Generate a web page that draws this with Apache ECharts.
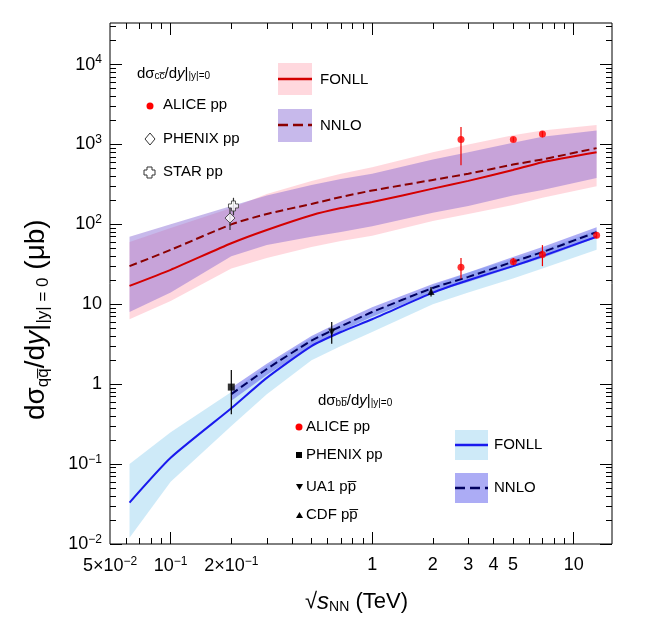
<!DOCTYPE html>
<html>
<head>
<meta charset="utf-8">
<script src="https://cdn.jsdelivr.net/npm/echarts@6/dist/echarts.min.js"></script>
<style>
html,body{margin:0;height:100%;background:#fff;}
#main{width:650px;height:631px;}
</style>
</head>
<body>
<div id="main"></div>
<script>
// energies (TeV) for theory curves
var energies = [0.0625, 0.1, 0.2, 0.3, 0.5, 0.7, 1, 2, 3, 5, 7, 13];
var fonllCC    = [17, 27, 58, 85, 130, 160, 190, 280, 350, 480, 600, 800];
var fonllCCLo  = [6.5, 11, 28, 38, 52, 62, 72, 110, 135, 175, 215, 300];
var fonllCCHi  = [60, 90, 160, 240, 350, 430, 520, 800, 1000, 1300, 1500, 1750];
var nnloCC     = [30, 48, 100, 135, 180, 220, 265, 360, 430, 560, 650, 900];
var nnloCCLo   = [8, 14, 40, 55, 70, 80, 95, 140, 170, 230, 270, 380];
var nnloCCHi   = [70, 100, 170, 230, 310, 370, 430, 650, 800, 1050, 1250, 1500];

var fonllBB    = [0.033, 0.12, 0.5, 1.2, 3.0, 4.5, 6.5, 14, 20, 30, 40, 70];
var fonllBBLo  = [0.012, 0.06, 0.3, 0.75, 2.0, 3.0, 4.5, 10, 14, 21, 28, 48];
var fonllBBHi  = [0.1, 0.25, 0.8, 1.7, 3.8, 5.6, 8.0, 17, 25, 37, 48, 85];
var bbE        = [0.2, 0.3, 0.5, 0.7, 1, 2, 3, 5, 7, 13];
var nnloBB     = [0.75, 1.55, 3.5, 5.3, 8, 16, 22, 34, 45, 80];
var nnloBBLo   = [0.62, 1.3, 3.0, 4.6, 7, 14, 19, 29, 38, 68];
var nnloBBHi   = [0.9, 1.8, 4.0, 6.1, 9.2, 18, 25, 39, 52, 92];

// measurements [x, y, errLo, errHi]
var aliceCC  = [[2.76, 1150, 550, 1650], [5.02, 1150, 1080, 1230], [7, 1350, 1230, 1460]];
var phenixCC = [[0.197, 120, 85, 160]];
var starCC   = [[0.205, 170, 130, 215]];
var aliceBB  = [[2.76, 29, 21, 38], [5.02, 34, 31, 38], [7, 42, 30, 55], [13, 73, 67, 80]];
var phenixBB = [[0.2, 0.92, 0.42, 1.5]];
var ua1BB    = [[0.63, 4.5, 3.2, 6.0]];
var cdfBB    = [[1.96, 14.5, 12.5, 16.5]];

var xLabelVals = [0.05, 0.1, 0.2, 1, 2, 3, 4, 5, 10];
var yLabelExps = [-2, -1, 0, 1, 2, 3, 4];

var L = Math.log10;
function pts(xs, ys) { return xs.map(function (x, i) { return [L(x), L(ys[i])]; }); }

function band(xs, lo, hi, color) {
  return { type: 'custom', silent: true, z: 1,
    data: xs.map(function (x, i) { return [L(x), L(lo[i]), L(hi[i])]; }),
    renderItem: function (params, api) {
      if (params.dataIndex !== 0) return null;
      var top = xs.map(function (x, i) { return api.coord([L(x), L(hi[i])]); });
      var bot = xs.map(function (x, i) { return api.coord([L(x), L(lo[i])]); }).reverse();
      return { type: 'polygon', shape: { points: top.concat(bot) }, style: { fill: color } };
    } };
}
function curve(xs, ys, color, dash) {
  return { type: 'line', data: pts(xs, ys), symbol: 'none', smooth: 0.2, z: 3,
    lineStyle: { color: color, width: 2, type: dash ? [8, 4] : 'solid' } };
}
function errs(d, color) {
  return { type: 'custom', z: 5, data: d.map(function (p) { return [L(p[0]), L(p[2]), L(p[3])]; }),
    renderItem: function (params, api) {
      var a = api.coord([api.value(0), api.value(1)]);
      var b = api.coord([api.value(0), api.value(2)]);
      return { type: 'line', shape: { x1: a[0], y1: a[1], x2: b[0], y2: b[1] },
        style: { stroke: color, lineWidth: 1.2 } };
    } };
}
function marks(d, symbol, color, size, hollow, rot) {
  return { type: 'scatter', data: d.map(function (p) { return [L(p[0]), L(p[1])]; }),
    symbol: symbol, symbolSize: size, symbolRotate: rot || 0, z: 6,
    itemStyle: hollow ? { color: '#fff', borderColor: color, borderWidth: 1 } : { color: color } };
}

var sup = { fontSize: 12, padding: [0, 0, 9, 0], color: '#000', fontFamily: 'Liberation Sans' };
var big = { fontSize: 18, color: '#000', fontFamily: 'Liberation Sans' };
function xFmt(v) {
  var best = xLabelVals.reduce(function (a, b) { return Math.abs(L(b) - v) < Math.abs(L(a) - v) ? b : a; });
  if (best === 0.05) return '{b|5\u00d710}{s|\u22122}';
  if (best === 0.1) return '{b|10}{s|\u22121}';
  if (best === 0.2) return '{b|2\u00d710}{s|\u22121}';
  return '{b|' + best + '}';
}
function yFmt(v) {
  var n = Math.round(v);
  if (n === 0) return '{b|1}';
  if (n === 1) return '{b|10}';
  return '{b|10}{s|' + String(n).replace('-', '\u2212') + '}';
}

var xMinor = [], yMinor = [];
[0.01, 0.1, 1, 10].forEach(function (d) {
  for (var k = 2; k <= 9; k++) { var v = k * d; if (v > 0.05 && v < 15) xMinor.push(L(v)); }
});
for (var n = -2; n <= 4; n++) for (var k = 2; k <= 9; k++) { if (L(k) + n < 4.52) yMinor.push(L(k) + n); }
var xMajor = [-1, 0, 1];

var XMIN = L(0.05), XMAX = L(15.5), YMIN = -2, YMAX = 4.52;
function xAx(pos, vals, len, labels) {
  return { type: 'value', min: XMIN, max: XMAX, position: pos,
    axisLine: { show: false, onZero: false },
    axisTick: { inside: true, length: len, customValues: vals, lineStyle: { color: '#000' } },
    axisLabel: labels ? { customValues: xLabelVals.map(L), formatter: xFmt, rich: { b: big, s: sup }, margin: 12 } : { show: false },
    splitLine: { show: false } };
}
function yAx(pos, vals, len, labels) {
  return { type: 'value', min: YMIN, max: YMAX, position: pos,
    axisLine: { show: false, onZero: false },
    axisTick: { inside: true, length: len, customValues: vals, lineStyle: { color: '#000' } },
    axisLabel: labels ? { customValues: yLabelExps, formatter: yFmt, rich: { b: big, s: sup }, margin: 8 } : { show: false },
    splitLine: { show: false } };
}

var series = [].concat(
  [band(energies, fonllCCLo, fonllCCHi, 'rgba(255,190,200,0.6)'),
   band(energies, nnloCCLo, nnloCCHi, 'rgba(130,100,210,0.45)'),
   band(energies, fonllBBLo, fonllBBHi, 'rgba(180,222,245,0.65)'),
   band(bbE, nnloBBLo, nnloBBHi, 'rgba(90,90,235,0.5)'),
   curve(energies, fonllCC, '#d40000', false),
   curve(energies, nnloCC, '#8b0000', true),
   curve(energies, fonllBB, '#1a1aee', false),
   curve(bbE, nnloBB, '#000060', true),
   errs(aliceCC, '#e00'), errs(phenixCC, '#333'), errs(starCC, '#333'),
   errs(aliceBB, '#e00'), errs(phenixBB, '#000'), errs(ua1BB, '#000'), errs(cdfBB, '#000'),
   marks(aliceCC, 'circle', '#f00', 7), marks(phenixCC, 'diamond', '#333', 10, true),
   marks(starCC, 'path://M3,0H7V3H10V7H7V10H3V7H0V3H3Z', '#333', 10, true),
   marks(aliceBB, 'circle', '#f00', 7), marks(phenixBB, 'rect', '#000', 7),
   marks(ua1BB, 'triangle', '#000', 7, false, 180), marks(cdfBB, 'triangle', '#000', 7)]
);
series.forEach(function (s) { s.xAxisIndex = 0; s.yAxisIndex = 0; });

var T = { fontFamily: 'Liberation Sans', fill: '#000' };
function txt(x, y, rich, text, size) {
  return { type: 'text', left: x, top: y, style: Object.assign({ text: text, fontSize: size || 14, rich: rich }, T) };
}
var legRich = {
  s: { fontSize: 10, padding: [0, 0, -6, 0], fontFamily: 'Liberation Sans' },
  i: { fontSize: 15, fontStyle: 'italic', fontFamily: 'Liberation Sans' },
  n: { fontSize: 15, fontFamily: 'Liberation Sans' }
};
function box(x, y, w, h, fill) { return { type: 'rect', shape: { x: x, y: y, width: w, height: h }, style: { fill: fill } }; }
function ln(x1, y, x2, color, dash) {
  return { type: 'line', shape: { x1: x1, y1: y, x2: x2, y2: y }, style: { stroke: color, lineWidth: 2.5, lineDash: dash ? [10, 5] : null } };
}

var chart = echarts.init(document.getElementById('main'));
chart.setOption({
  animation: false,
  grid: { left: 110, right: 38, top: 23, bottom: 87 },
  xAxis: [xAx('bottom', xMajor, 12, true), xAx('bottom', xMinor, 6, false),
          xAx('top', xMajor, 12, false), xAx('top', xMinor, 6, false)],
  yAxis: [yAx('left', yLabelExps, 12, true), yAx('left', yMinor, 6, false),
          yAx('right', yLabelExps, 12, false), yAx('right', yMinor, 6, false)],
  series: series.concat([
    { type: 'line', xAxisIndex: 2, yAxisIndex: 2, data: [] },
    { type: 'line', xAxisIndex: 1, yAxisIndex: 1, data: [] },
    { type: 'line', xAxisIndex: 3, yAxisIndex: 3, data: [] }
  ]),
  graphic: [
    { type: 'rect', shape: { x: 110, y: 23, width: 502, height: 521 }, style: { fill: null, stroke: '#000', lineWidth: 1 }, silent: true },
    // y axis title
    { type: 'text', x: 22, y: 420, rotation: Math.PI / 2,
      style: Object.assign({ text: '{a|d\u03c3}{s|qq\u0305}{a|/d}{i|y}{a||}{s||y| = 0}{a| (\u03bcb)}', rich: {
        a: { fontSize: 28, fontFamily: 'Liberation Sans' },
        i: { fontSize: 28, fontStyle: 'italic', fontFamily: 'Liberation Sans' },
        s: { fontSize: 17, padding: [0, 0, -14, 0], fontFamily: 'Liberation Sans' } } }, T) },
    // x axis title
    txt(305, 590, { a: { fontSize: 22, fontFamily: 'Liberation Sans' }, i: { fontSize: 24, fontStyle: 'italic', fontFamily: 'Liberation Sans' }, s: { fontSize: 14, padding: [0, 0, -10, 0], fontFamily: 'Liberation Sans' } },
        '{a|\u221a}{i|s}{s|NN}{a| (TeV)}'),
    // charm legend
    txt(137, 66, legRich, '{n|d\u03c3}{s|cc\u0305}{n|/d}{i|y}{n||}{s||y|=0}'),
    { type: 'circle', shape: { cx: 150, cy: 106, r: 3.5 }, style: { fill: '#f00' } },
    txt(163, 97, legRich, '{n|ALICE pp}'),
    { type: 'polygon', shape: { points: [[150, 133], [155, 139], [150, 145], [145, 139]] }, style: { fill: null, stroke: '#333' } },
    txt(163, 131, legRich, '{n|PHENIX pp}'),
    { type: 'polygon', shape: { points: [[147, 167], [152, 167], [152, 170], [155, 170], [155, 175], [152, 175], [152, 178], [147, 178], [147, 175], [144, 175], [144, 170], [147, 170]] }, style: { fill: null, stroke: '#333' } },
    txt(163, 164, legRich, '{n|STAR pp}'),
    box(278, 63, 34, 32, 'rgba(255,190,200,0.6)'), ln(278, 79, 312, '#d40000'),
    txt(320, 72, legRich, '{n|FONLL}'),
    box(278, 109, 34, 33, 'rgba(130,100,210,0.45)'), ln(278, 125, 312, '#8b0000', true),
    txt(320, 118, legRich, '{n|NNLO}'),
    // beauty legend
    txt(318, 393, legRich, '{n|d\u03c3}{s|bb\u0305}{n|/d}{i|y}{n||}{s||y|=0}'),
    { type: 'circle', shape: { cx: 299, cy: 427, r: 3.5 }, style: { fill: '#f00' } },
    txt(306, 419, legRich, '{n|ALICE pp}'),
    box(296, 452, 6, 6, '#000'),
    txt(306, 447, legRich, '{n|PHENIX pp}'),
    { type: 'polygon', shape: { points: [[296, 484], [303, 484], [299.5, 490]] }, style: { fill: '#000' } },
    txt(306, 479, legRich, '{n|UA1 p}{n|p\u0305}'),
    { type: 'polygon', shape: { points: [[296, 518], [303, 518], [299.5, 512]] }, style: { fill: '#000' } },
    txt(306, 507, legRich, '{n|CDF p}{n|p\u0305}'),
    box(455, 430, 33, 30, 'rgba(180,222,245,0.65)'), ln(455, 445, 488, '#1a1aee'),
    txt(494, 437, legRich, '{n|FONLL}'),
    box(455, 473, 33, 30, 'rgba(90,90,235,0.5)'), ln(455, 488, 488, '#000060', true),
    txt(494, 480, legRich, '{n|NNLO}')
  ]
});
</script>
</body>
</html>
